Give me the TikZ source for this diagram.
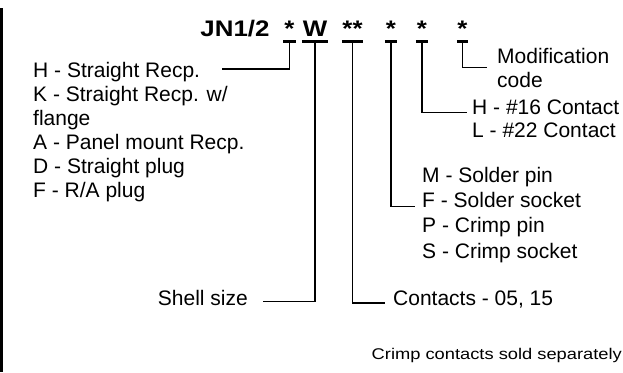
\documentclass[tikz,border=0pt]{standalone}
\usepackage{fontspec}
\setmainfont{Liberation Sans}
\newfontfamily\widefont[FakeStretch=1.15]{Liberation Sans}
\newfontfamily\notefont[FakeStretch=1.18]{Liberation Sans}
\usetikzlibrary{positioning}

\begin{document}
\begin{tikzpicture}[
    x=1pt, y=-1pt,
    code/.style={font=\widefont\bfseries\fontsize{22.5}{26}\selectfont, inner sep=0pt, anchor=base, minimum width=12pt},
    lbl/.style={font=\fontsize{21}{24}\selectfont, inner sep=0pt, align=left},
    note/.style={font=\notefont\fontsize{15.5}{18}\selectfont, inner sep=0pt},
    bar/.style={line width=2.7pt},
    lead/.style={line width=1.1pt}
  ]
  \useasboundingbox (0,0) rectangle (623,372);
  \draw[line width=2.6pt] (1.3,8) -- (1.3,372);

  \node[code, minimum width=0pt] (series) at (235,36) {JN1/2};
  \node[code] (style) at (289.5,36) {*};
  \node[code, minimum width=26pt] (shell) at (315,36) {W};
  \node[code, minimum width=21pt] (count) at (352.5,36) {**};
  \node[code] (ctype) at (391,36) {*};
  \node[code] (csize) at (422,36) {*};
  \node[code, minimum width=11pt] (modif) at (462.5,36) {*};

  \node[lbl, anchor=north west] (styleL) at (33,62) {H - Straight Recp.\\K - Straight Recp. w/\\flange\\A - Panel mount Recp.\\D - Straight plug\\F - R/A plug};
  \node[lbl, anchor=north west] (modifL) at (497,47.7) {Modification\\code};
  \node[lbl, anchor=north west, font=\fontsize{21}{23}\selectfont] (csizeL) at (472,99.7) {H - \#16 Contact\\L - \#22 Contact};
  \node[lbl, anchor=north west, font=\fontsize{21}{25.3}\selectfont] (ctypeL) at (422,166.7) {M - Solder pin\\F - Solder socket\\P - Crimp pin\\S - Crimp socket};
  \node[lbl, anchor=base east] (shellL) at (248,305) {Shell size};
  \node[lbl, anchor=base west] (countL) at (393,305) {Contacts - 05, 15};
  \node[note, anchor=base east] (sold) at (622,359) {Crimp contacts sold separately};

  \coordinate (styleend) at (222,69);

  \foreach \n in {style,shell,count,ctype,csize,modif}
    \draw[bar] ([yshift=-5.5pt]\n.base west) -- ([yshift=-5.5pt]\n.base east);

  \draw[lead] ([yshift=-5.5pt]style.base) |- (styleend);
  \draw[lead] ([yshift=-5.5pt]shell.base) |- ([shift={(15pt,-4pt)}]shellL.east);
  \draw[lead] ([yshift=-5.5pt]count.base) |- ([shift={(-8pt,-4pt)}]countL.west);
  \draw[lead] ([yshift=-5.5pt]ctype.base) |- ([shift={(-7pt,8pt)}]ctypeL.west);
  \draw[lead] ([yshift=-5.5pt]csize.base) |- ([shift={(-5pt,6pt)}]csizeL.west);
  \draw[lead] ([yshift=-5.5pt]modif.base) |- ([xshift=-10pt]modifL.west);
\end{tikzpicture}
\end{document}
